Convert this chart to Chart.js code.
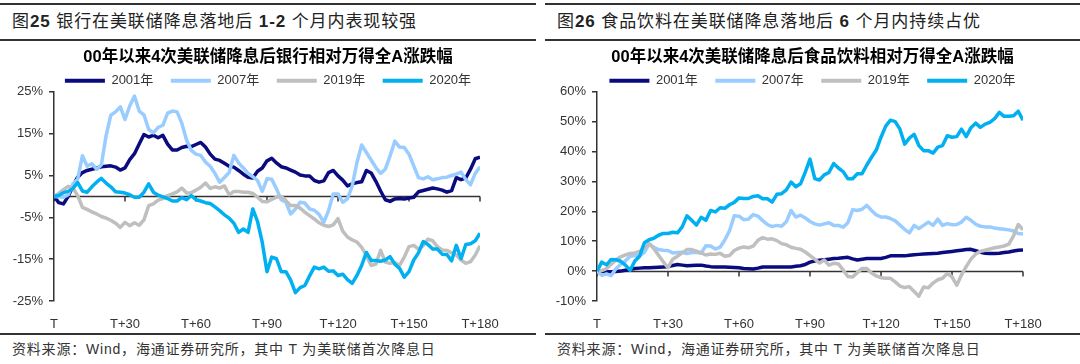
<!DOCTYPE html>
<html>
<head>
<meta charset="utf-8">
<script src="https://cdn.jsdelivr.net/npm/chart.js@4.4.0/dist/chart.umd.min.js"></script>
<style>
body{margin:0;width:1080px;height:364px;background:#fff;position:relative;overflow:hidden;
  font-family:"Liberation Sans",Arial,"Noto Sans CJK SC",sans-serif;color:#222}
.panel{position:absolute;top:0;height:364px}
.rule{position:absolute;left:0;right:0;height:2px;background:#333}
.head{position:absolute;left:12px;top:10px;font-size:17px;line-height:24px;white-space:nowrap;letter-spacing:0.9px}
.src{position:absolute;left:12px;top:340px;font-size:14px;line-height:18px;white-space:nowrap;color:#333;letter-spacing:0.8px}
canvas{position:absolute;left:0;top:44px}
</style>
</head>
<body>
<div class="panel" style="left:0;width:536px">
  <div class="rule" style="top:3px"></div>
  <div class="head">图<b>25</b> 银行在美联储降息落地后 <b>1-2</b> 个月内表现较强</div>
  <div class="rule" style="top:39px"></div>
  <canvas id="bank" width="536" height="288"></canvas>
  <div class="rule" style="top:333px"></div>
  <div class="src">资料来源：Wind，海通证券研究所，其中 T 为美联储首次降息日</div>
</div>
<div class="panel" style="left:545px;width:535px">
  <div class="rule" style="top:3px"></div>
  <div class="head">图<b>26</b> 食品饮料在美联储降息落地后 <b>6</b> 个月内持续占优</div>
  <div class="rule" style="top:39px"></div>
  <canvas id="food" width="535" height="288"></canvas>
  <div class="rule" style="top:333px"></div>
  <div class="src">资料来源：Wind，海通证券研究所，其中 T 为美联储首次降息日</div>
</div>
<script>
// trading days after the first cut (T = 0)
var days = [0,2,4,6,8,10,12,14,16,18,20,22,24,26,28,30,32,34,36,38,
  40,42,44,46,48,50,52,54,56,58,60,62,64,66,68,70,72,74,76,78,
  80,82,84,86,88,90,92,94,96,98,100,102,104,106,108,110,112,114,116,118,
  120,122,124,126,128,130,132,134,136,138,140,142,144,146,148,150,152,154,156,158,
  160,162,164,166,168,170,172,174,176,178,180];
var years = ['2001年', '2007年', '2019年', '2020年'];
var colors = ['#0B0B80', '#99CCFF', '#BFBFBF', '#00B0F0'];

// 图25 银行相对万得全A (%)
var bank2001 = [0,-1.5,-1.8,0,2.5,4.6,5.7,6.2,6.5,6.8,
  7.1,7.2,7.3,7.0,6.3,6.8,8.8,10.2,12.5,14.8,
  14.2,14.6,14.0,14.6,12.5,11.1,11.1,11.7,12.0,11.9,
  12.4,12.9,11.8,10.1,8.9,8.6,7.9,7.2,7.0,6.2,
  5.3,4.6,4.4,6.0,6.8,8.5,9.1,8.0,7.1,6.8,
  6.3,5.8,5.1,4.9,4.9,3.8,3.4,3.7,5.7,6.2,
  4.9,3.9,2.5,3.0,3.3,3.5,6.2,5.6,3.6,1.3,
  -0.8,-1.2,-0.6,-0.5,-0.6,-0.4,-0.2,1.1,1.4,1.7,
  2.0,1.8,1.5,1.0,1.4,4.5,4.0,4.4,6.5,9.0,
  9.4];
var bank2007 = [0,-0.1,-0.2,0.4,3.0,4.1,9.7,7.2,7.8,6.5,
  7.5,14.5,19.4,20.2,21.4,18.4,21.6,24.0,20.4,19.5,
  16.0,15.2,16.5,17.0,19.9,20.4,20.2,17.5,13.5,11.0,
  10.1,9.8,8.2,7.2,5.5,3.4,4.5,5.7,9.8,8.0,
  6.8,5.5,4.7,3.8,1.2,4.2,4.1,1.8,-0.8,-1.4,
  -4.2,-3.0,-1.4,-1.6,-3.0,-3.3,-4.3,-6.2,-3.4,0.6,
  0.6,-1.4,-0.6,2.5,8.1,12.3,10.5,8.7,6.9,5.5,
  6.5,9.7,13.2,11.8,11.7,10.1,7.3,4.5,4.2,4.7,
  4.0,4.2,4.5,4.6,5.0,5.3,5.8,4.0,2.8,5.5,
  7.1];
var bank2019 = [0,0.7,1.6,2.4,2.0,0.2,-2.6,-3.1,-3.7,-4.2,
  -4.8,-5.2,-5.7,-6.4,-7.4,-6.2,-7.0,-6.3,-6.9,-5.6,
  -2.2,-1.8,-0.9,-0.5,0.2,0.6,1.1,2.0,0.8,0.9,
  1.5,2.2,3.2,1.9,2.3,2.0,2.5,0.4,1.2,1.2,
  1.0,1.0,0.7,-0.2,-1.2,-1.3,-0.7,-0.2,0.0,-1.0,
  -2.2,-2.2,-2.8,-3.8,-4.6,-5.4,-6.3,-6.9,-7.2,-6.8,
  -5.3,-8.3,-9.7,-10.4,-10.9,-12.2,-14.1,-16.5,-16.2,-12.9,
  -15.7,-16.0,-15.8,-16.5,-14.5,-12.0,-11.7,-12.6,-11.8,-10.2,
  -10.6,-12.0,-12.8,-12.9,-13.5,-14.0,-15.2,-16.0,-15.6,-14.0,
  -11.8];
var bank2020 = [0,0.2,0.9,1.2,1.9,3.3,1.3,1.0,2.3,3.4,
  4.3,3.2,2.3,1.1,1.0,0.8,0.4,-0.2,-0.2,1.0,
  3.0,1.0,0.3,-0.1,-0.5,-1.1,-1.1,-0.3,-0.8,0.2,
  -0.8,-1.1,-1.5,-1.7,-2.5,-3.4,-4.4,-5.2,-6.4,-8.6,
  -7.8,-8.6,-3.0,-6.0,-11.0,-18.0,-14.5,-14.9,-18.0,-18.0,
  -20.0,-23.0,-21.8,-21.3,-19.0,-16.9,-17.3,-16.9,-17.9,-17.8,
  -18.9,-18.6,-19.9,-20.8,-18.9,-16.5,-13.4,-15.3,-15.3,-15.5,
  -15.2,-14.4,-16.2,-17.2,-19.3,-18.0,-15.2,-13.5,-10.8,-11.5,
  -12.6,-12.6,-13.8,-13.9,-15.4,-11.7,-14.9,-11.5,-11.3,-10.6,
  -8.8];

// 图26 食品饮料相对万得全A (%)
var food2001 = [0,-0.1,-0.2,-0.2,-0.1,0,0.3,0.6,0.9,1.0,
  1.1,1.1,1.2,1.3,1.4,1.5,1.9,2.2,2.0,1.8,
  1.9,2.0,2.0,1.7,1.5,1.4,1.4,1.4,1.3,1.2,
  1.1,0.9,0.8,0.7,1.0,1.4,1.4,1.4,1.4,1.4,
  1.4,1.4,1.6,1.8,2.2,3.0,3.4,3.6,3.8,4.0,
  4.2,4.3,4.5,4.6,4.1,3.7,4.0,4.2,4.2,4.2,
  4.2,4.6,5.1,5.1,5.1,5.1,5.3,5.5,5.6,5.7,
  5.8,5.9,6.0,6.2,6.4,6.6,6.8,7.0,7.2,7.3,
  6.8,6.3,6.0,5.9,5.9,6.0,6.2,6.4,6.7,7.0,
  7.1];
var food2007 = [0,-1.4,-0.9,-1.5,0.8,2.3,3.4,5.0,5.2,5.1,
  6.3,9.1,8.0,7.2,7.0,6.9,6.1,6.2,6.3,5.9,
  6.2,6.3,6.0,8.5,8.4,7.4,8.0,10.4,13.5,18.5,
  18.4,17.2,17.4,18.9,18.4,16.9,15.6,14.9,15.3,15.0,
  16.5,20.3,18.1,18.7,17.8,16.6,15.8,15.4,15.8,16.2,
  15.3,15.3,14.7,16.2,20.5,20.3,20.7,22.0,20.3,18.8,
  18.1,18.1,17.6,16.8,15.4,14.0,12.8,15.3,14.2,15.3,
  16.4,15.3,17.4,15.3,15.9,15.5,15.6,16.4,18.0,17.0,
  15.7,15.0,14.8,14.8,14.4,14.2,14.0,13.8,13.4,12.6,
  12.4];
var food2019 = [0,0.2,0.8,2.3,3.7,4.8,5.4,5.9,6.1,6.6,
  7.8,9.2,7.6,5.3,3.1,1.2,4.0,5.0,6.1,7.2,
  7.2,6.7,6.1,5.4,5.7,5.6,6.0,5.0,5.2,6.9,
  7.7,8.1,7.8,8.4,10.3,11.2,10.7,10.8,10.2,9.2,
  8.8,8.0,7.6,7.3,6.4,5.2,4.0,2.7,3.7,2.0,
  2.6,2.4,0.4,-1.8,-2.0,-0.5,0.9,0.9,-0.6,-1.6,
  -2.2,-2.4,-2.4,-3.6,-5.0,-5.5,-5.2,-6.8,-8.4,-5.3,
  -5.6,-4.0,-2.9,-2.4,-0.8,-1.9,-4.7,-1.3,1.5,4.0,
  5.7,6.6,7.0,7.4,7.8,8.1,8.4,9.0,11.8,15.6,
  13.8];
var food2020 = [0,3.0,2.1,3.9,3.8,3.3,2.0,0.3,3.4,5.0,
  9.5,10.5,11.0,12.0,12.6,12.6,13.0,12.8,14.8,18.5,
  17.0,15.4,18.0,17.0,20.3,19.8,21.2,21.0,22.2,23.0,
  24.5,24.3,24.3,25.0,25.2,24.2,24.2,23.1,25.7,25.9,
  27.2,29.8,28.2,29.2,33.1,37.5,31.0,30.5,32.2,33.0,
  36.0,34.5,33.3,30.9,30.9,32.6,32.6,35.5,38.1,40.5,
  44.8,48.5,50.5,50.0,47.5,42.5,44.5,45.8,42.0,40.3,
  40.3,39.5,41.5,42.0,45.3,44.8,45.0,47.5,45.0,48.0,
  49.5,48.1,49.2,49.8,51.0,53.1,51.8,51.8,52.0,53.5,
  50.5];

var FONT = '"Liberation Sans", Arial, "Noto Sans CJK SC", sans-serif';

// axis line at y = 0 with small ticks below it
var zeroAxis = {
  id: 'zeroAxis',
  beforeDatasetsDraw: function(chart) {
    var ctx = chart.ctx, area = chart.chartArea;
    var x = chart.scales.x, y = chart.scales.y;
    var y0 = Math.round(y.getPixelForValue(0)) + 0.5;
    ctx.save();
    ctx.strokeStyle = '#333';
    ctx.lineWidth = 1.5;
    ctx.beginPath();
    ctx.moveTo(area.left, y0);
    ctx.lineTo(area.right, y0);
    x.ticks.forEach(function(t) {
      var px = x.getPixelForValue(t.value);
      ctx.moveTo(px, y0);
      ctx.lineTo(px, y0 + 5);
    });
    ctx.stroke();
    ctx.restore();
  }
};

function makeChart(id, title, series, yMin, yMax, yWidth, rightWidth) {
  var datasets = series.map(function(vals, i) {
    return {
      label: years[i],
      data: days.map(function(d, j) { return {x: d, y: vals[j]}; }),
      borderColor: colors[i],
      backgroundColor: colors[i],
      borderWidth: 3.5,
      pointRadius: 0,
      borderJoinStyle: 'round',
      order: 4 - i
    };
  });
  return new Chart(document.getElementById(id), {
    type: 'line',
    data: {datasets: datasets},
    plugins: [zeroAxis],
    options: {
      responsive: false,
      animation: false,
      layout: {padding: 0},
      plugins: {
        title: {
          display: true,
          text: title,
          color: '#000',
          font: {family: FONT, size: 16.5, weight: 'bold'},
          padding: {top: 4, bottom: -11}
        },
        legend: {
          maxHeight: 35,
          labels: {
            color: '#333',
            font: {family: FONT, size: 13},
            usePointStyle: true,
            pointStyle: 'line',
            pointStyleWidth: 40,
            padding: 17.5,
            sort: function(a, b) { return a.datasetIndex - b.datasetIndex; },
            generateLabels: function(chart) {
              var items = Chart.defaults.plugins.legend.labels.generateLabels(chart);
              items.forEach(function(it) { it.lineWidth = 4; });
              return items;
            }
          }
        },
        tooltip: {enabled: false}
      },
      scales: {
        x: {
          type: 'linear',
          min: 0,
          max: 180,
          grid: {display: false},
          border: {display: false},
          ticks: {
            stepSize: 30,
            autoSkip: false,
            maxRotation: 0,
            padding: 8,
            color: '#333',
            font: {family: FONT, size: 13},
            callback: function(v) { return v === 0 ? 'T' : 'T+' + v; }
          },
          afterFit: function(s) { s.height = 31; }
        },
        y: {
          min: yMin,
          max: yMax,
          grid: {drawOnChartArea: false, drawTicks: true, tickLength: 5, color: '#333', lineWidth: 1.5},
          border: {display: true, color: '#333', width: 1.5},
          ticks: {
            stepSize: 10,
            padding: 6,
            color: '#333',
            font: {family: FONT, size: 13},
            callback: function(v) { return v + '%'; }
          },
          afterFit: function(s) { s.width = yWidth; }
        },
        yR: {
          position: 'right',
          grid: {display: false},
          border: {display: false},
          ticks: {display: false},
          afterFit: function(s) { s.width = rightWidth; }
        }
      }
    }
  });
}

makeChart('bank', '00年以来4次美联储降息后银行相对万得全A涨跌幅',
  [bank2001, bank2007, bank2019, bank2020], -25, 25, 54, 56);
makeChart('food', '00年以来4次美联储降息后食品饮料相对万得全A涨跌幅',
  [food2001, food2007, food2019, food2020], -10, 60, 52, 57);
</script>
</body>
</html>
